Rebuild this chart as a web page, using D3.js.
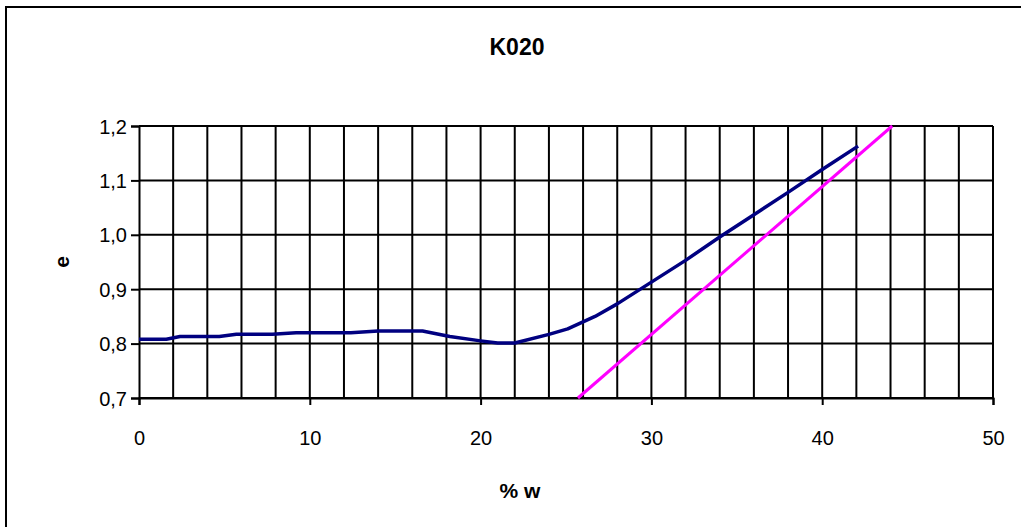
<!DOCTYPE html>
<html lang="en">
<head>
    <meta charset="UTF-8">
    <title>K020</title>
    <script src="https://d3js.org/d3.v7.min.js"></script>
    <style>
        body { margin: 0; background: #fff; }
        svg { display: block; font-family: "Liberation Sans", Arial, sans-serif; }
    </style>
</head>
<body>
    <div id="chart"></div>
    <script>
        // e vs water content, sample K020
        const curveW = [0, 1.6, 2.4, 4.7, 5.7, 7.8, 9.2, 12.4, 14.0, 16.6, 18.2, 20.0, 21.0, 22.0, 24.0, 25.1, 26.7, 28.0, 30.0, 32.0, 34.0, 36.0, 38.0, 40.0, 42.1];
        const curveE = [0.808, 0.808, 0.813, 0.813, 0.817, 0.817, 0.820, 0.820, 0.823, 0.823, 0.813, 0.805, 0.801, 0.801, 0.817, 0.827, 0.850, 0.873, 0.913, 0.953, 0.996, 1.037, 1.078, 1.120, 1.163];
        // saturation line
        const satW = [25.7, 44.1];
        const satE = [0.7, 1.2];

        const xTicks = [0, 10, 20, 30, 40, 50];
        const yTicks = [0.7, 0.8, 0.9, 1.0, 1.1, 1.2];

        const width = 1021, height = 527;
        const plot = { left: 139, right: 993, top: 126, bottom: 398 };

        const svg = d3.select("#chart").append("svg")
            .attr("width", width)
            .attr("height", height);

        // outer chart border (runs off the right and bottom)
        svg.append("rect")
            .attr("x", 6).attr("y", 7)
            .attr("width", 1040).attr("height", 560)
            .attr("fill", "#fff")
            .attr("stroke", "#000")
            .attr("stroke-width", 2);

        const x = d3.scaleLinear().domain([0, 50]).range([plot.left, plot.right]);
        const y = d3.scaleLinear().domain([0.7, 1.2]).range([plot.bottom, plot.top]);

        // grid lines
        const grid = svg.append("g").attr("stroke", "#000").attr("stroke-width", 2);
        grid.selectAll(".vg").data(d3.range(2, 51, 2)).enter().append("line")
            .attr("x1", d => x(d)).attr("x2", d => x(d))
            .attr("y1", plot.top).attr("y2", plot.bottom);
        grid.selectAll(".hg").data(yTicks).enter().append("line")
            .attr("x1", plot.left).attr("x2", plot.right)
            .attr("y1", d => y(d)).attr("y2", d => y(d));

        // axes
        const fmt = d => d.toFixed(1).replace(".", ",");

        const xAxis = svg.append("g")
            .attr("transform", `translate(0,${plot.bottom})`)
            .call(d3.axisBottom(x).tickValues(xTicks).tickSize(7).tickPadding(26).tickFormat(d3.format("d")));
        const yAxis = svg.append("g")
            .attr("transform", `translate(${plot.left},0)`)
            .call(d3.axisLeft(y).tickValues(yTicks).tickSize(8).tickPadding(4).tickFormat(fmt));

        [xAxis, yAxis].forEach(a => {
            a.select(".domain").attr("stroke", "#000").attr("stroke-width", 2);
            a.selectAll(".tick line").attr("stroke", "#000").attr("stroke-width", 2);
            a.selectAll(".tick text")
                .attr("fill", "#000")
                .style("font-size", "20px")
                .style("font-family", "'Liberation Sans', Arial, sans-serif");
        });
        yAxis.selectAll(".tick text").attr("dy", "0.35em");

        // series
        const line = d3.line().x(d => x(d[0])).y(d => y(d[1]));

        svg.append("path")
            .datum(curveW.map((w, i) => [w, curveE[i]]))
            .attr("d", line)
            .attr("fill", "none")
            .attr("stroke", "#000080")
            .attr("stroke-width", 3.5)
            .attr("stroke-linejoin", "round");

        svg.append("path")
            .datum(satW.map((w, i) => [w, satE[i]]))
            .attr("d", line)
            .attr("fill", "none")
            .attr("stroke", "#ff00ff")
            .attr("stroke-width", 3);

        // titles
        svg.append("text")
            .attr("x", 517).attr("y", 55)
            .attr("text-anchor", "middle")
            .style("font-size", "23px").style("font-weight", "bold")
            .text("K020");

        svg.append("text")
            .attr("x", 520).attr("y", 498)
            .attr("text-anchor", "middle")
            .style("font-size", "21px").style("font-weight", "bold")
            .text("% w");

        svg.append("text")
            .attr("transform", "translate(69,262) rotate(-90)")
            .attr("text-anchor", "middle")
            .style("font-size", "21px").style("font-weight", "bold")
            .text("e");
    </script>
</body>
</html>
